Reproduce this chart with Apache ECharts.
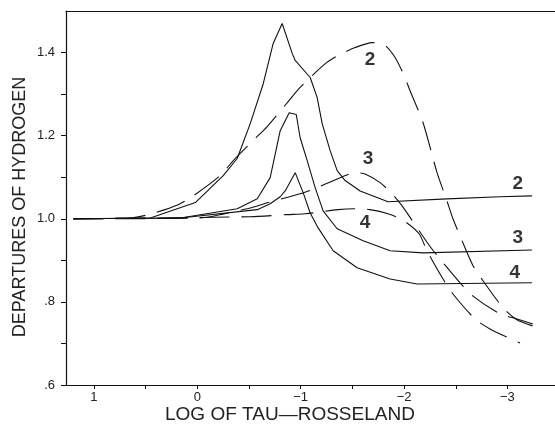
<!DOCTYPE html>
<html><head><meta charset="utf-8">
<script src="https://cdn.jsdelivr.net/npm/echarts@6/dist/echarts.min.js"></script>
<style>html,body{margin:0;padding:0;background:#fff}#c{width:555px;height:425px}</style>
</head><body><div id="c"></div>
<script>
// axis ticks and labels
const xTicks = [1, 0.5, 0, -0.5, -1, -1.5, -2, -2.5, -3];
const xLabels = [1, 0, -1, -2, -3];
const yTicks = [0.6, 0.7, 0.8, 0.9, 1.0, 1.1, 1.2, 1.3, 1.4];
const yLabels = [0.6, 0.8, 1.0, 1.2, 1.4];

// solid curves [log tau, departure]
const solid2 = [[1.198,1.000],[0.454,1.002],[0.019,1.039],[-0.251,1.104],[-0.386,1.145],[-0.512,1.229],[-0.638,1.325],[-0.734,1.422],[-0.821,1.470],[-0.918,1.398],[-0.947,1.381],[-1.092,1.340],[-1.159,1.292],[-1.208,1.229],[-1.285,1.164],[-1.353,1.116],[-1.430,1.092],[-1.575,1.067],[-1.845,1.041],[-2.415,1.048],[-2.928,1.053],[-3.237,1.055]];
const solid3 = [[1.198,1.000],[0.164,1.002],[-0.386,1.024],[-0.580,1.048],[-0.705,1.099],[-0.802,1.212],[-0.889,1.255],[-0.957,1.251],[-0.995,1.195],[-1.063,1.140],[-1.140,1.075],[-1.217,1.019],[-1.353,0.976],[-1.604,0.947],[-1.865,0.923],[-2.184,0.918],[-3.237,0.925]];
const solid4 = [[1.198,1.000],[0.164,1.002],[-0.580,1.022],[-0.705,1.036],[-0.802,1.053],[-0.850,1.067],[-0.947,1.111],[-1.024,1.063],[-1.092,1.014],[-1.169,0.978],[-1.314,0.923],[-1.546,0.882],[-1.865,0.855],[-2.126,0.843],[-3.237,0.846]];

// dashed curves
const dashed2 = [[1.198,1.000],[0.647,1.002],[0.473,1.010],[0.184,1.034],[0.039,1.055],[-0.222,1.104],[-0.348,1.140],[-0.560,1.193],[-0.676,1.222],[-0.879,1.282],[-0.995,1.316],[-1.227,1.371],[-1.362,1.393],[-1.527,1.412],[-1.691,1.424],[-1.816,1.417],[-1.913,1.388],[-2.000,1.345],[-2.058,1.308],[-2.184,1.231],[-2.319,1.111],[-2.415,1.043],[-2.473,1.000],[-2.541,0.959],[-2.667,0.887],[-2.763,0.851],[-2.957,0.786],[-3.092,0.757],[-3.246,0.742]];
const dashed3 = [[1.198,1.000],[-0.029,1.002],[-0.386,1.019],[-0.531,1.027],[-0.686,1.039],[-0.995,1.060],[-1.159,1.075],[-1.382,1.099],[-1.527,1.111],[-1.623,1.108],[-1.768,1.087],[-1.884,1.060],[-1.981,1.031],[-2.232,0.940],[-2.338,0.906],[-2.541,0.846],[-2.667,0.814],[-2.928,0.771],[-3.092,0.759],[-3.246,0.747]];
const dashed4 = [[1.198,1.000],[-0.512,1.005],[-0.870,1.010],[-1.043,1.012],[-1.362,1.022],[-1.527,1.024],[-1.671,1.022],[-1.845,1.012],[-2.000,0.995],[-2.145,0.964],[-2.222,0.923],[-2.377,0.855],[-2.473,0.819],[-2.686,0.759],[-2.831,0.735],[-3.121,0.701]];

// curve labels
const labelTexts = ['2', '3', '4', '2', '3', '4'];
const labelPoints = [[-1.671,1.383],[-1.652,1.145],[-1.623,0.990],[-3.101,1.084],[-3.101,0.954],[-3.072,0.870]];

const INK = '#111';
const chart = echarts.init(document.getElementById('c'), null, {renderer: 'canvas'});
const fmtY = v => { const s = (Math.round(v*10)/10).toFixed(1); return s.startsWith('0') ? s.slice(1) : s; };
const fmtX = v => v < 0 ? '\u2212' + Math.abs(v) : String(v);

function line(data, dashed) {
  return {
    type: 'line', data: data, showSymbol: false, symbol: 'none',
    smooth: dashed ? 0.25 : false,
    lineStyle: {color: INK, width: 1.1, type: dashed ? [30, 12] : 'solid'},
    silent: true, z: 3
  };
}

chart.setOption({
  animation: false,
  backgroundColor: '#fff',
  grid: {left: 66, right: 0, top: 11, bottom: 40, containLabel: false},
  xAxis: [{
    type: 'value', inverse: true, min: -3.46, max: 1.27,
    axisLine: {show: true, onZero: false, lineStyle: {color: INK, width: 1.2}},
    axisTick: {show: true, customValues: xTicks, length: 4, inside: false, lineStyle: {color: INK}},
    axisLabel: {customValues: xLabels, formatter: fmtX, color: '#222', fontFamily: 'Liberation Sans', fontSize: 13, margin: 6},
    splitLine: {show: false}
  }, {
    type: 'value', position: 'top', inverse: true, min: -3.46, max: 1.27,
    axisLine: {show: true, onZero: false, lineStyle: {color: INK, width: 1.2}},
    axisTick: {show: false}, axisLabel: {show: false}, splitLine: {show: false}
  }],
  yAxis: {
    type: 'value', position: 'left', min: 0.6, max: 1.5,
    axisLine: {show: true, onZero: false, lineStyle: {color: INK, width: 1.2}},
    axisTick: {show: true, customValues: yTicks, length: 5, lineStyle: {color: INK}},
    axisLabel: {customValues: yLabels, formatter: fmtY, color: '#222', fontFamily: 'Liberation Sans', fontSize: 13, margin: 11},
    splitLine: {show: false}
  },
  graphic: [{
    type: 'text', x: 20, y: 207, rotation: Math.PI / 2,
    style: {text: 'DEPARTURES OF HYDROGEN', fill: '#222', font: '18px "Liberation Sans"', align: 'center', verticalAlign: 'middle'}
  }, {
    type: 'text', left: 165, top: 405,
    style: {text: 'LOG OF TAU\u2014ROSSELAND', fill: '#222', font: '19px "Liberation Sans"'}
  }],
  series: [
    line(solid2, false), line(solid3, false), line(solid4, false),
    line(dashed2, true), line(dashed3, true), line(dashed4, true),
    {
      type: 'scatter', symbolSize: 2, itemStyle: {color: 'rgba(0,0,0,0)'}, silent: true, z: 4,
      data: labelPoints.map((p, i) => ({value: p, name: labelTexts[i]})),
      label: {show: true, position: 'inside', formatter: p => p.name, color: '#000',
              fontFamily: 'Liberation Sans', fontWeight: 'bold', fontSize: 19}
    }
  ]
});
</script></body></html>
